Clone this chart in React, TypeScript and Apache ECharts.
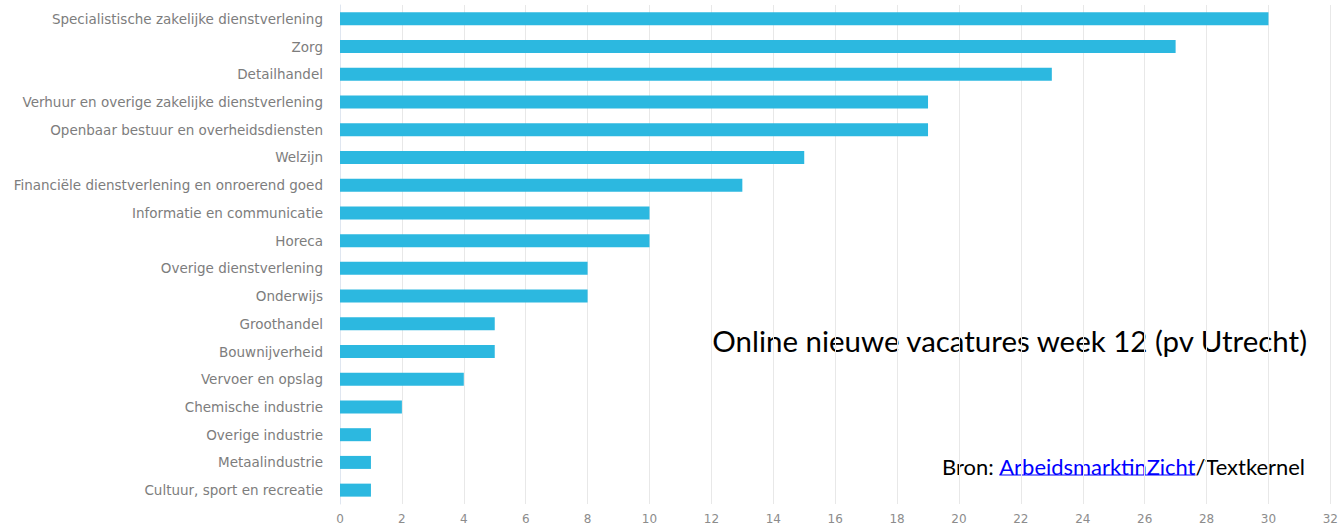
import React, { useEffect, useRef } from "react";
import * as echarts from "echarts";

const categories = [
  "Specialistische zakelijke dienstverlening",
  "Zorg",
  "Detailhandel",
  "Verhuur en overige zakelijke dienstverlening",
  "Openbaar bestuur en overheidsdiensten",
  "Welzijn",
  "Financiële dienstverlening en onroerend goed",
  "Informatie en communicatie",
  "Horeca",
  "Overige dienstverlening",
  "Onderwijs",
  "Groothandel",
  "Bouwnijverheid",
  "Vervoer en opslag",
  "Chemische industrie",
  "Overige industrie",
  "Metaalindustrie",
  "Cultuur, sport en recreatie",
];
const values = [30, 27, 23, 19, 19, 15, 13, 10, 10, 8, 8, 5, 5, 4, 2, 1, 1, 1];

const titleText = "Online nieuwe vacatures week 12 (pv Utrecht)";
const sourcePrefix = "Bron: ";
const sourceLink = "ArbeidsmarktinZicht";
const sourceSuffix = "/Textkernel";

const FAM = 'Lato, "Open Sans", sans-serif';

function fitSize(ctx: CanvasRenderingContext2D, text: string, target: number) {
  ctx.font = `100px ${FAM}`;
  const w = ctx.measureText(text).width;
  return (100 * target) / w;
}

export default function App() {
  const ref = useRef<HTMLDivElement>(null);
  useEffect(() => {
    if (!ref.current) return;
    const chart = echarts.init(ref.current, null, { renderer: "svg" });
    const cv = document.createElement("canvas").getContext("2d")!;
    const titleSize = fitSize(cv, titleText, 597);
    const srcSize = fitSize(cv, sourcePrefix + sourceLink + sourceSuffix, 363);
    const srcFont = `${srcSize}px ${FAM}`;
    cv.font = srcFont;
    const wSuffix = cv.measureText(sourceSuffix).width;
    const wLink = cv.measureText(sourceLink).width;
    const right = 1305;
    const linkRight = right - wSuffix;
    const linkLeft = linkRight - wLink;
    const srcY = 466;

    chart.setOption({
      animation: false,
      backgroundColor: "#ffffff",
      grid: { left: 340, right: 7, top: 5, bottom: 22, containLabel: false },
      xAxis: {
        type: "value",
        min: 0,
        max: 32,
        interval: 2,
        axisLine: { show: false },
        axisTick: { show: false },
        axisLabel: {
          color: "#8c8c8c",
          fontSize: 12,
          fontFamily: "DejaVu Sans",
          margin: 9,
        },
        splitLine: { show: true, lineStyle: { color: "#e8e8e8", width: 1 } },
      },
      yAxis: {
        type: "category",
        inverse: true,
        data: categories,
        axisLine: { show: true, lineStyle: { color: "#dfe6f0", width: 1 } },
        axisTick: { show: false },
        axisLabel: {
          color: "#7d7d7d",
          fontSize: 13.5,
          fontFamily: "DejaVu Sans",
          margin: 17,
        },
      },
      series: [
        {
          type: "bar",
          data: values,
          barWidth: 13,
          itemStyle: { color: "#2cb8e0" },
        },
      ],
      graphic: [
        {
          type: "text",
          x: 1307,
          y: 340,
          style: {
            text: titleText,
            font: `${titleSize}px ${FAM}`,
            fill: "#000000",
            textAlign: "right",
            textVerticalAlign: "middle",
          },
        },
        {
          type: "text",
          x: linkLeft,
          y: srcY,
          style: {
            text: sourcePrefix,
            font: srcFont,
            fill: "#000000",
            textAlign: "right",
            textVerticalAlign: "middle",
          },
        },
        {
          type: "text",
          x: linkLeft,
          y: srcY,
          style: {
            text: sourceLink,
            font: srcFont,
            fill: "#0000ff",
            textAlign: "left",
            textVerticalAlign: "middle",
          },
        },
        {
          type: "line",
          shape: { x1: linkLeft, y1: srcY + 9, x2: linkRight, y2: srcY + 9 },
          style: { stroke: "#0000ff", lineWidth: 1 },
        },
        {
          type: "text",
          x: linkRight,
          y: srcY,
          style: {
            text: sourceSuffix,
            font: srcFont,
            fill: "#000000",
            textAlign: "left",
            textVerticalAlign: "middle",
          },
        },
      ],
    });
    return () => chart.dispose();
  }, []);
  return (
    <div
      ref={ref}
      style={{ position: "fixed", left: 0, top: 0, width: 1341, height: 526 }}
    />
  );
}
